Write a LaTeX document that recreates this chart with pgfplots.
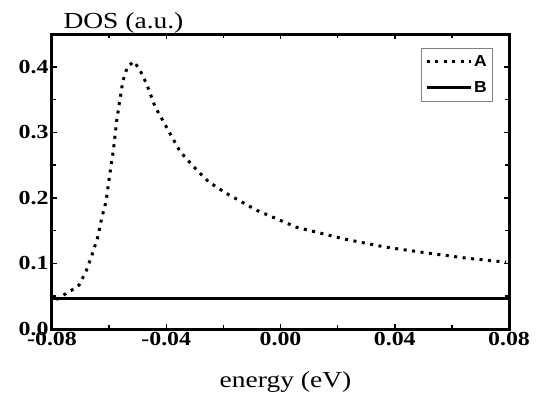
\documentclass[border=0pt]{standalone}
\usepackage{fontspec}
\setmainfont{Liberation Serif}[FakeStretch=1.2]
\newfontfamily\legfont{Liberation Sans}[FakeStretch=1.1]
\usepackage{pgfplots}
\pgfplotsset{compat=1.18}
\begin{document}
\begin{tikzpicture}
\begin{axis}[
 scale only axis, width=457bp, height=295bp,
 xmin=-0.08, xmax=0.08, ymin=0, ymax=0.45,
 xtick={-0.08,-0.04,0,0.04,0.08}, ytick={0,0.1,0.2,0.3,0.4},
 minor x tick num=1, minor y tick num=1,
 tick align=inside, major tick length=5bp, minor tick length=4bp,
 every tick/.style={line width=1.5bp, black},
 axis line style={line width=3bp},
 x tick label style={/pgf/number format/fixed, /pgf/number format/fixed zerofill, /pgf/number format/precision=2},
 y tick label style={/pgf/number format/fixed, /pgf/number format/fixed zerofill, /pgf/number format/precision=1},
 /pgf/number format/assume math mode=true,
 scaled ticks=false,
 tick label style={font=\fontsize{20}{23}\selectfont\bfseries},
 legend style={at={(1,1)}, anchor=north east, xshift=-16bp, yshift=-14bp, draw=black!50, line width=0.6bp,
   font=\legfont\bfseries\fontsize{16}{18}\selectfont, inner xsep=4bp, inner ysep=5bp, row sep=10bp, cells={anchor=west}},
 legend image code/.code={\draw[#1] (0bp,0bp) -- (44bp,0bp);},
 clip=false,
]
\addplot[black, line width=3bp, dash pattern=on 3bp off 5.5bp] coordinates {
(-0.0785,0.045) (-0.0765,0.050) (-0.0745,0.056) (-0.0720,0.062) (-0.0705,0.067)
(-0.0680,0.089) (-0.0660,0.113) (-0.0640,0.140) (-0.0626,0.169) (-0.0611,0.194)
(-0.0597,0.238) (-0.0585,0.273) (-0.0573,0.319) (-0.0564,0.345) (-0.0552,0.378)
(-0.0536,0.400) (-0.0513,0.408) (-0.0492,0.395) (-0.0468,0.373) (-0.0439,0.339)
(-0.0398,0.307) (-0.0352,0.271) (-0.0305,0.248) (-0.0253,0.225) (-0.0194,0.208)
(-0.0083,0.181) (0.0057,0.155) (0.0226,0.137) (0.0366,0.125) (0.0512,0.116)
(0.0652,0.108) (0.0790,0.102)};
\addlegendentry{A}
\addplot[black, line width=3bp] coordinates {(-0.08,0.046) (0.08,0.046)};
\addlegendentry{B}
\node[anchor=base west, font=\fontsize{23}{27}\selectfont, xshift=8bp, yshift=6bp] at (rel axis cs:0,1) {DOS (a.u.)};
\node[anchor=base, font=\fontsize{23}{27}\selectfont, xshift=5bp, yshift=-58bp] at (rel axis cs:0.5,0) {energy (eV)};
\end{axis}
\pgfresetboundingbox
\path[use as bounding box] (current axis.south west) ++(-52bp,-65bp) rectangle ++(542bp,394bp);
\end{tikzpicture}
\end{document}
